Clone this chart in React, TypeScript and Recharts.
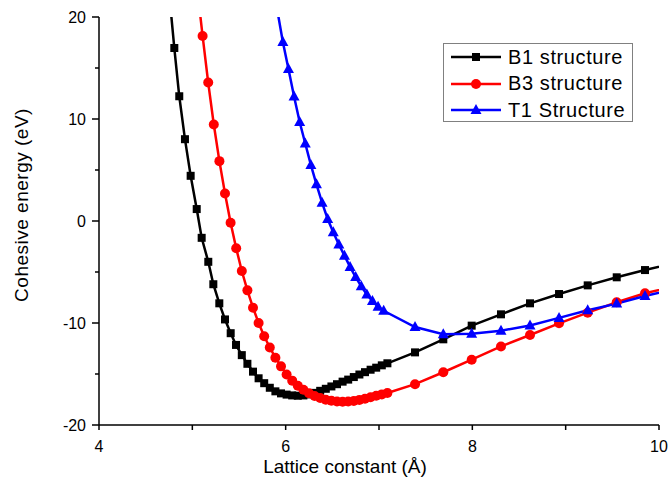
import React from 'react';
import { LineChart, Line, XAxis, YAxis } from 'recharts';

const FONT = '"Liberation Sans", Arial, Helvetica, sans-serif';

// B1 structure (black squares)
const b1Lattice = [
  4.75, 4.807, 4.86, 4.921, 4.982, 5.047, 5.1, 5.171, 5.225, 5.289, 5.35, 5.411, 5.468, 5.53, 5.59,
  5.65, 5.71, 5.77, 5.83, 5.89, 5.95, 6.01, 6.07, 6.13, 6.19, 6.25, 6.31, 6.37, 6.43, 6.49, 6.55,
  6.61, 6.67, 6.73, 6.79, 6.85, 6.91, 6.97, 7.03, 7.09, 7.386, 7.689, 7.993, 8.307, 8.618, 8.929,
  9.236, 9.547, 9.85, 10.16,
];
const b1Energy = [
  22.5, 16.96, 12.23, 8.02, 4.43, 1.17, -1.65, -4.0, -6.2, -8.07, -9.65, -11.0, -12.15, -13.15, -14.0,
  -14.77, -15.42, -15.9, -16.35, -16.7, -16.9, -17.02, -17.1, -17.13, -17.1, -17.0, -16.85, -16.65,
  -16.45, -16.22, -16.0, -15.75, -15.55, -15.3, -15.05, -14.82, -14.58, -14.38, -14.15, -13.95,
  -12.88, -11.6, -10.26, -9.15, -8.07, -7.16, -6.31, -5.52, -4.81, -4.15,
];

// B3 structure (red circles)
const b3Lattice = [
  5.05, 5.11, 5.17, 5.23, 5.29, 5.35, 5.41, 5.47, 5.53, 5.59, 5.65, 5.71, 5.77, 5.83, 5.89, 5.95,
  6.01, 6.07, 6.13, 6.19, 6.25, 6.31, 6.37, 6.43, 6.49, 6.55, 6.61, 6.67, 6.73, 6.79, 6.85, 6.91,
  6.97, 7.03, 7.09, 7.386, 7.689, 7.993, 8.307, 8.618, 8.929, 9.236, 9.547, 9.85, 10.16,
];
const b3Energy = [
  23.0, 18.14, 13.57, 9.46, 5.87, 2.7, -0.18, -2.68, -4.9, -6.8, -8.5, -10.0, -11.3, -12.4, -13.4,
  -14.25, -15.05, -15.65, -16.15, -16.55, -16.88, -17.15, -17.35, -17.52, -17.62, -17.7, -17.72,
  -17.7, -17.64, -17.54, -17.42, -17.28, -17.14, -17.0, -16.86, -16.0, -14.83, -13.6, -12.3, -11.18,
  -10.03, -8.99, -7.97, -7.09, -6.4,
];

// T1 structure (blue triangles)
const t1Lattice = [
  5.9, 5.97, 6.03, 6.09, 6.15, 6.21, 6.27, 6.33, 6.39, 6.45, 6.51, 6.57, 6.63, 6.69, 6.75, 6.81,
  6.87, 6.93, 6.99, 7.05, 7.386, 7.689, 7.993, 8.307, 8.618, 8.929, 9.236, 9.547, 9.85, 10.16,
];
const t1Energy = [
  21.2, 17.55, 14.9, 12.2, 9.7, 7.6, 5.5, 3.6, 1.8, 0.2, -1.1, -2.3, -3.4, -4.5, -5.5, -6.4, -7.2,
  -7.85, -8.4, -8.8, -10.4, -11.1, -11.05, -10.75, -10.25, -9.5, -8.75, -8.1, -7.35, -6.7,
];

const seriesNames = ['B1 structure', 'B3 structure', 'T1 Structure'];
const seriesColors = ['#000000', '#ff0000', '#0000ff'];
const xTicks = [4, 5, 6, 7, 8, 9, 10];
const yTicks = [-20, -15, -10, -5, 0, 5, 10, 15, 20];

const toPoints = (a: number[], e: number[]) => a.map((v, i) => ({ a: v, e: e[i] }));
const b1Data = toPoints(b1Lattice, b1Energy);
const b3Data = toPoints(b3Lattice, b3Energy);
const t1Data = toPoints(t1Lattice, t1Energy);

const square = (cx: number, cy: number, fill: string) => (
  <rect x={cx - 4} y={cy - 4} width={8} height={8} fill={fill} />
);
const circle = (cx: number, cy: number, fill: string) => <circle cx={cx} cy={cy} r={5} fill={fill} />;
const triangle = (cx: number, cy: number, fill: string) => (
  <polygon points={`${cx},${cy - 6} ${cx - 5.5},${cy + 4} ${cx + 5.5},${cy + 4}`} fill={fill} />
);
const shapes = [square, circle, triangle];

const makeDot = (i: number) => (p: any) =>
  p.cx == null ? null : <g key={`d${i}-${p.index}`}>{shapes[i](p.cx, p.cy, seriesColors[i])}</g>;

const BottomTick = (props: any) => {
  const { x, y, payload } = props;
  const major = payload.value % 2 === 0;
  return (
    <g>
      <line x1={x} y1={y} x2={x} y2={y + 5} stroke="#000" strokeWidth={1.5} />
      {major && (
        <text x={x} y={y + 27} textAnchor="middle" fontSize={16} fontFamily={FONT} fill="#000">
          {payload.value}
        </text>
      )}
    </g>
  );
};

const TopTick = (props: any) => {
  const { x, y } = props;
  return <line x1={x} y1={y} x2={x} y2={y - 4} stroke="#000" strokeWidth={1.5} />;
};

const LeftTick = (props: any) => {
  const { x, y, payload } = props;
  const major = payload.value % 10 === 0;
  return (
    <g>
      <line x1={x} y1={y} x2={x - (major ? 7 : 4)} y2={y} stroke="#000" strokeWidth={1.5} />
      {major && (
        <text x={x - 13} y={y} dy="0.35em" textAnchor="end" fontSize={16} fontFamily={FONT} fill="#000">
          {payload.value}
        </text>
      )}
    </g>
  );
};

const LegendBox = () => (
  <div
    style={{
      position: 'absolute',
      left: 443,
      top: 43,
      width: 190,
      height: 79,
      boxSizing: 'border-box',
      border: '1px solid #808080',
      background: '#fff',
      fontFamily: FONT,
      fontSize: 20,
    }}
  >
    {seriesNames.map((name, i) => (
      <div key={name} style={{ display: 'flex', alignItems: 'center', height: 26.5 }}>
        <svg width={64} height={26} style={{ flex: 'none' }}>
          <line x1={7} y1={13} x2={57} y2={13} stroke={seriesColors[i]} strokeWidth={2.5} />
          {shapes[i](32, 13, seriesColors[i])}
        </svg>
        <span style={{ color: '#000', letterSpacing: 0.6, whiteSpace: 'nowrap' }}>{name}</span>
      </div>
    ))}
  </div>
);

export default function App() {
  return (
    <div style={{ position: 'absolute', left: 0, top: 0, width: 671, height: 492, background: '#fff' }}>
      <LineChart width={671} height={492} margin={{ top: 17, right: 12, bottom: 0, left: 0 }}>
        <XAxis
          dataKey="a"
          type="number"
          domain={[4, 10]}
          ticks={xTicks}
          allowDataOverflow
          height={67}
          tickSize={0}
          tickMargin={0}
          tick={<BottomTick />}
          tickLine={false}
          axisLine={{ stroke: '#000', strokeWidth: 1.5 }}
          label={() => (
            <text x={345} y={473} textAnchor="middle" fontSize={19} fontFamily={FONT} fill="#000">
              Lattice constant (Å)
            </text>
          )}
        />
        <XAxis
          xAxisId="top"
          orientation="top"
          type="number"
          domain={[4, 10]}
          ticks={xTicks}
          height={0}
          tickSize={0}
          tickMargin={0}
          tick={<TopTick />}
          tickLine={false}
          axisLine={{ stroke: '#000', strokeWidth: 1.5 }}
        />
        <YAxis
          type="number"
          domain={[-20, 20]}
          ticks={yTicks}
          allowDataOverflow
          width={99}
          tickSize={0}
          tickMargin={0}
          tick={<LeftTick />}
          tickLine={false}
          axisLine={{ stroke: '#000', strokeWidth: 1.5 }}
          label={() => (
            <text
              x={28}
              y={205}
              transform="rotate(-90 28 205)"
              textAnchor="middle"
              fontSize={19}
              fontFamily={FONT}
              fill="#000"
              letterSpacing={0.5}
            >
              Cohesive energy (eV)
            </text>
          )}
        />
        <YAxis
          yAxisId="right"
          orientation="right"
          type="number"
          domain={[-20, 20]}
          width={0}
          tick={false}
          tickLine={false}
          axisLine={{ stroke: '#000', strokeWidth: 1.5 }}
        />
        {[b1Data, b3Data, t1Data].map((d, i) => (
          <Line
            key={seriesNames[i]}
            data={d}
            dataKey="e"
            name={seriesNames[i]}
            type="linear"
            stroke={seriesColors[i]}
            strokeWidth={2.5}
            dot={makeDot(i)}
            activeDot={false}
            isAnimationActive={false}
          />
        ))}
      </LineChart>
      <LegendBox />
    </div>
  );
}
